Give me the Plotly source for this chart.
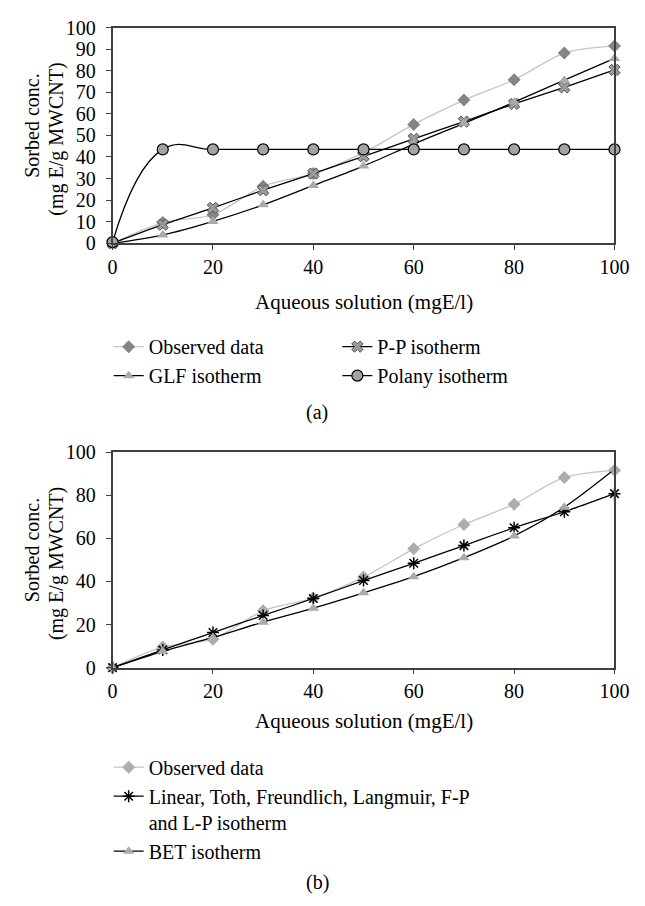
import plotly.graph_objects as go

W, H = 645, 906

# ---------------- data ----------------
x_vals = [0, 10, 20, 30, 40, 50, 60, 70, 80, 90, 100]

observed = [0, 9.6, 13.2, 26.4, 32.3, 42.0, 55.1, 66.4, 75.8, 88.2, 91.5]

# panel (a)
pp_iso = [0, 8.6, 16.4, 24.6, 32.3, 40.3, 48.4, 56.4, 64.6, 72.3, 80.4]
glf_iso = [0, 3.8, 10.1, 17.8, 26.8, 35.8, 46.0, 55.6, 65.4, 75.6, 85.7]
polany_iso = [0.5, 43.5, 43.5, 43.5, 43.5, 43.5, 43.5, 43.5, 43.5, 43.5, 43.5]

# panel (b)
linear_iso = [0, 8.2, 16.3, 24.2, 32.1, 40.4, 48.4, 56.6, 64.9, 72.3, 80.7]
bet_iso = [0, 7.6, 14.0, 21.1, 27.6, 34.7, 42.2, 51.0, 61.1, 74.4, 92.0]

x_ticks = [0, 20, 40, 60, 80, 100]
y_ticks_a = [0, 10, 20, 30, 40, 50, 60, 70, 80, 90, 100]
y_ticks_b = [0, 20, 40, 60, 80, 100]

names_a = ["Observed data", "P-P isotherm", "GLF isotherm", "Polany isotherm"]
names_b = ["Observed data",
           "Linear, Toth, Freundlich, Langmuir, F-P<br>and L-P isotherm",
           "BET isotherm"]

x_title = "Aqueous solution (mgE/l)"
y_title_1 = "Sorbed conc."
y_title_2 = "(mg E/g MWCNT)"

FONT = "Liberation Serif"


def px(x):
    return x / W


def py(y):
    return 1 - y / H


fig = go.Figure()

# ---------------- panel (a) ----------------
fig.add_trace(go.Scatter(
    x=x_vals, y=observed, name=names_a[0], mode="lines+markers",
    line=dict(color="#c4c4c4", width=1.3, shape="spline", smoothing=0.8),
    marker=dict(symbol="diamond", size=10, color="#858585"),
    cliponaxis=False, legend="legend", xaxis="x", yaxis="y"))
fig.add_trace(go.Scatter(
    x=x_vals, y=pp_iso, name=names_a[1], mode="lines+markers",
    line=dict(color="black", width=1.3, shape="spline", smoothing=0.8),
    marker=dict(symbol="x", size=10, color="#9a9a9a",
                line=dict(color="#555555", width=1)),
    cliponaxis=False, legend="legend2", xaxis="x", yaxis="y"))
fig.add_trace(go.Scatter(
    x=x_vals, y=glf_iso, name=names_a[2], mode="lines+markers",
    line=dict(color="black", width=1.3, shape="spline", smoothing=0.8),
    marker=dict(symbol="triangle-up", size=10, color="#aaaaaa"),
    cliponaxis=False, legend="legend", xaxis="x", yaxis="y"))
fig.add_trace(go.Scatter(
    x=x_vals, y=polany_iso, name=names_a[3], mode="lines+markers",
    line=dict(color="black", width=1.3, shape="spline", smoothing=1.3),
    marker=dict(symbol="circle", size=11, color="#a3a3a3",
                line=dict(color="black", width=1.2)),
    cliponaxis=False, legend="legend2", xaxis="x", yaxis="y"))

# ---------------- panel (b) ----------------
fig.add_trace(go.Scatter(
    x=x_vals, y=observed, name=names_b[0], mode="lines+markers",
    line=dict(color="#c4c4c4", width=1.3, shape="spline", smoothing=0.8),
    marker=dict(symbol="diamond", size=10, color="#adadad"),
    cliponaxis=False, legend="legend3", xaxis="x2", yaxis="y2"))
fig.add_trace(go.Scatter(
    x=x_vals, y=linear_iso, name=names_b[1], mode="lines+markers",
    line=dict(color="black", width=1.3, shape="spline", smoothing=0.8),
    marker=dict(symbol="asterisk-open", size=10, color="black",
                line=dict(color="black", width=1.5)),
    cliponaxis=False, legend="legend3", xaxis="x2", yaxis="y2"))
fig.add_trace(go.Scatter(
    x=x_vals, y=bet_iso, name=names_b[2], mode="lines+markers",
    line=dict(color="black", width=1.3, shape="spline", smoothing=0.8),
    marker=dict(symbol="triangle-up", size=10, color="#aaaaaa"),
    cliponaxis=False, legend="legend3", xaxis="x2", yaxis="y2"))

axis_common = dict(showgrid=False, zeroline=False, showline=True,
                   linecolor="#404040", linewidth=1.5, mirror=True,
                   ticks="outside", ticklen=5, tickwidth=1.2,
                   tickcolor="#404040",
                   tickfont=dict(family=FONT, size=20, color="black"))

xdom = [px(111), px(629)]
legend_common = dict(xanchor="left", yanchor="top", bgcolor="rgba(0,0,0,0)",
                     font=dict(family=FONT, size=20, color="black"),
                     tracegroupgap=0, itemwidth=30, valign="top")
fig.update_layout(
    width=W, height=H,
    margin=dict(l=0, r=0, t=0, b=0),
    paper_bgcolor="white", plot_bgcolor="white",
    font=dict(family=FONT, size=20, color="black"),
    xaxis=dict(domain=xdom, range=[0, 100], tickvals=x_ticks,
               anchor="y", **axis_common),
    yaxis=dict(domain=[py(238), py(17)], range=[0, 100],
               tickvals=y_ticks_a, anchor="x", ticklabelstandoff=6,
               **axis_common),
    xaxis2=dict(domain=xdom, range=[0, 100], tickvals=x_ticks,
                anchor="y2", **axis_common),
    yaxis2=dict(domain=[py(673), py(452)], range=[0, 100],
                tickvals=y_ticks_b, anchor="x2", ticklabelstandoff=6,
                **axis_common),
    legend=dict(x=px(107), y=py(324), **legend_common),
    legend2=dict(x=px(343), y=py(324), **legend_common),
    legend3=dict(x=px(107), y=py(755), **legend_common),
    showlegend=True,
)

ann = []
for (xc, yc) in [(370, 298), (370, 728)]:
    ann.append(dict(text=x_title, x=px(xc), y=py(yc), xref="paper", yref="paper",
                    showarrow=False, xanchor="center", yanchor="middle",
                    font=dict(family=FONT, size=21)))
for (top, bot) in [(17, 238), (452, 673)]:
    mid = (top + bot) / 2
    ann.append(dict(text=y_title_1, x=px(28), y=py(mid - 10), xref="paper", yref="paper",
                    showarrow=False, textangle=-90, xanchor="center", yanchor="middle",
                    font=dict(family=FONT, size=20)))
    ann.append(dict(text=y_title_2, x=px(53), y=py(mid + 4), xref="paper", yref="paper",
                    showarrow=False, textangle=-90, xanchor="center", yanchor="middle",
                    font=dict(family=FONT, size=20)))
ann.append(dict(text="(a)", x=px(322), y=py(412), xref="paper", yref="paper",
                showarrow=False, xanchor="center", yanchor="middle",
                font=dict(family=FONT, size=20)))
ann.append(dict(text="(b)", x=px(322), y=py(893), xref="paper", yref="paper",
                showarrow=False, xanchor="center", yanchor="middle",
                font=dict(family=FONT, size=20)))
fig.update_layout(annotations=ann)

# remove the browser's default 8px page margin so the figure fills the window
fig.write_html("out.html",
               config={"displayModeBar": False},
               post_script="document.body.style.margin='0px';")
